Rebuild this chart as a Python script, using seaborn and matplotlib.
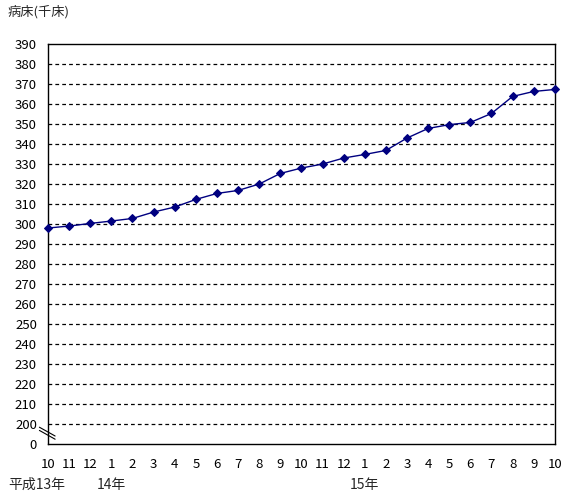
import numpy as np
import pandas as pd
import matplotlib
matplotlib.use("Agg")
import matplotlib.pyplot as plt
import seaborn as sns

# months from H13.10 to H15.10
months = ["10", "11", "12", "1", "2", "3", "4", "5", "6", "7", "8", "9",
          "10", "11", "12", "1", "2", "3", "4", "5", "6", "7", "8", "9", "10"]
beds = [298, 299, 300.3, 301.5, 302.8, 306, 308.5, 312.3, 315.3, 316.8, 320, 325.3, 328,
        330, 333, 334.8, 336.8, 343, 347.8, 349.7, 350.8, 355.3, 363.8, 366.3, 367.3]
year_labels = ["平成13年", "14年", "15年"]
year_pos = [0, 3, 15]
y_ticks = list(range(200, 400, 10))

sns.set_theme(style="white")
plt.rcParams["font.family"] = ["Noto Sans CJK JP", "DejaVu Sans"]

df = pd.DataFrame({"pos": np.arange(len(months)), "beds": beds})

fig, ax = plt.subplots(figsize=(5.65, 4.95), dpi=100)
fig.subplots_adjust(left=0.085, right=0.982, top=0.911, bottom=0.103)

for v in y_ticks[:-1]:
    ax.axhline(v, color="black", lw=0.9, ls=(0, (3, 2.5)), zorder=1)

sns.lineplot(data=df, x="pos", y="beds", ax=ax, color="#000080", lw=1,
             marker="D", markersize=4.2, markeredgecolor="#000080", zorder=3, clip_on=False)

ax.set_xlim(0, len(months) - 1)
ax.set_ylim(190, 390)
ax.set_yticks([190] + y_ticks)
ax.set_yticklabels(["0"] + [str(v) for v in y_ticks])
ax.set_xticks(df["pos"])
ax.set_xticklabels(months)
ax.tick_params(axis="y", length=0, pad=8, labelsize=9.5, colors="black")
ax.tick_params(axis="x", direction="in", length=4, width=1, pad=10, labelsize=9.5, colors="black")
ax.set_xlabel("")
ax.set_ylabel("")

for s in ax.spines.values():
    s.set_color("black")
    s.set_linewidth(1)
    s.set_visible(True)

# axis break mark
for dy in (0, 0.008):
    ax.plot([-0.017, 0.014], [0.042 - dy, 0.02 - dy], transform=ax.transAxes,
            color="black", lw=0.8, clip_on=False)

for lab, p in zip(year_labels, year_pos):
    x_fig = ax.transData.transform((p, 0))[0] / fig.bbox.width
    if p == 0:
        fig.text(8 / 565, 1 - 485 / 495, lab, fontsize=10, va="center", ha="left")
    else:
        fig.text(x_fig, 1 - 485 / 495, lab, fontsize=10, va="center", ha="center")

fig.text(8 / 565, 1 - 12 / 495, "病床(千床)", fontsize=9.5, va="center", ha="left")

fig.savefig("out.png", dpi=100)
